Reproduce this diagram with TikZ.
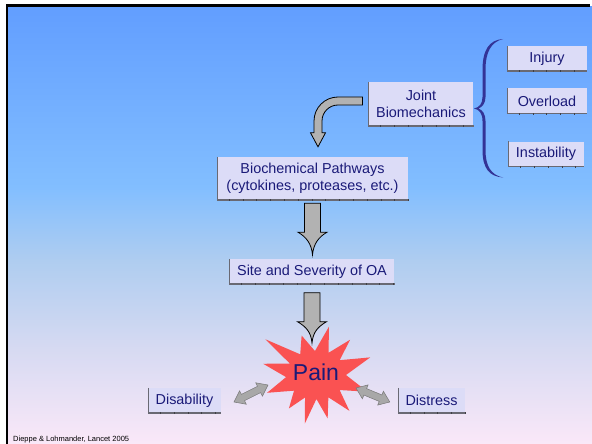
\documentclass[tikz,border=0pt]{standalone}
\usepackage{fontspec}
\setmainfont{Liberation Sans}
\usetikzlibrary{calc}

\definecolor{navytext}{RGB}{26,26,120}
\definecolor{boxfill}{RGB}{220,220,247}
\definecolor{boxedge}{RGB}{105,105,115}
\definecolor{arrowfill}{RGB}{178,178,178}
\definecolor{dblfill}{RGB}{168,168,168}
\definecolor{dbledge}{RGB}{120,120,120}
\definecolor{painred}{RGB}{250,82,82}
\definecolor{braceblue}{RGB}{51,51,150}
\definecolor{bgtop}{RGB}{98,158,255}
\definecolor{bgmidA}{RGB}{130,190,255}
\definecolor{bgmidB}{RGB}{175,205,240}
\definecolor{bgmidC}{RGB}{215,218,242}
\definecolor{bgbot}{RGB}{250,232,248}

\pgfdeclareverticalshading{slidebg}{100bp}{color(0bp)=(bgbot); color(25bp)=(bgbot);
  color(35.75bp)=(bgmidC); color(46bp)=(bgmidB); color(54.4bp)=(bgmidA);
  color(75bp)=(bgtop); color(100bp)=(bgtop)}

\tikzset{
  box/.style={fill=boxfill, text=navytext, inner xsep=7.5pt, inner ysep=3pt,
    minimum height=25pt, font=\fontsize{14.4}{16.5}\selectfont, align=center},
  fatdown/.style={fill=arrowfill, draw=black, line width=0.8pt,
    to path={let \p1=(\tikztostart), \p2=(\tikztotarget) in
      (\x1-8pt,\y1) -- (\x1+8pt,\y1) -- (\x1+8pt,\y1-29pt) -- (\x1+14.5pt,\y1-29pt)
      .. controls (\x1+6pt,\y1-34pt) and (\x1+1pt,\y2+11pt) .. (\x1,\y2)
      .. controls (\x1-1pt,\y2+11pt) and (\x1-6pt,\y1-34pt) .. (\x1-14.5pt,\y1-29pt)
      -- (\x1-8pt,\y1-29pt) -- cycle}},
  bentarrow/.style={fill=arrowfill, draw=black, line width=0.8pt,
    to path={let \p1=(\tikztostart), \p2=(\tikztotarget) in
      (\x1,\y1+4pt) -- (\x2+20pt,\y1+4pt)
      .. controls (\x2+6.75pt,\y1+4pt) and (\x2-4pt,\y1-6.75pt) .. (\x2-4pt,\y1-20pt)
      -- (\x2-4pt,\y2+14pt) -- (\x2-7.5pt,\y2+14pt) -- (\x2,\y2) -- (\x2+7.5pt,\y2+14pt)
      -- (\x2+4pt,\y2+14pt) -- (\x2+4pt,\y1-20pt)
      .. controls (\x2+4pt,\y1-11.17pt) and (\x2+11.17pt,\y1-4pt) .. (\x2+20pt,\y1-4pt)
      -- (\x1,\y1-4pt) -- cycle}},
  dblarrow/.style={fill=dblfill, draw=dbledge, line width=0.5pt,
    to path={let \p1=(\tikztostart), \p2=(\tikztotarget),
      \n1={atan2(\y2-\y1,\x2-\x1)}, \n2={veclen(\x2-\x1,\y2-\y1)} in
      ([shift={(\p1)},rotate=\n1]0pt,0pt) -- ([shift={(\p1)},rotate=\n1]10pt,7.5pt)
      -- ([shift={(\p1)},rotate=\n1]10pt,3.5pt) -- ([shift={(\p1)},rotate=\n1]\n2-10pt,3.5pt)
      -- ([shift={(\p1)},rotate=\n1]\n2-10pt,7.5pt) -- ([shift={(\p1)},rotate=\n1]\n2,0pt)
      -- ([shift={(\p1)},rotate=\n1]\n2-10pt,-7.5pt) -- ([shift={(\p1)},rotate=\n1]\n2-10pt,-3.5pt)
      -- ([shift={(\p1)},rotate=\n1]10pt,-3.5pt) -- ([shift={(\p1)},rotate=\n1]10pt,-7.5pt)
      -- cycle}}
}

\begin{document}
\begin{tikzpicture}[x=1pt, y=-1pt]

% Slide background
\useasboundingbox (0,0) rectangle (592,444);
\fill[white] (0,0) rectangle (592,444);
\shade[shading=slidebg] (8,7) rectangle (592,444);
\fill[black] (6,4.5) rectangle (590,7);
\fill[black] (6,4.5) rectangle (8,444);

% Boxes
\node[box, minimum width=80pt] (injury) at (547,58.5) {Injury};
\node[box, minimum width=80pt] (overload) at (547,101) {Overload};
\node[box] (instab) at (546,154) {Instability};
\node[box, minimum height=44pt] (joint) at (421,104) {Joint\\Biomechanics};
\node[box, minimum height=43pt, inner xsep=9.5pt] (bio) at (312.5,178.5)
  {Biochemical Pathways\\(cytokines, proteases, etc.)};
\node[box] (site) at (312,271.5) {Site and Severity of OA};
\node[box] (disab) at (184.5,400.5) {Disability};
\node[box] (distress) at (431.5,400.5) {Distress};

\foreach \n in {injury,overload,instab,joint,bio,site,disab,distress}{
  \draw[boxedge, line width=0.5pt] (\n.north west) -- (\n.south west);
  \draw[boxedge, line width=1.5pt] (\n.south west) -- (\n.south east);
  \draw[boxedge!60!black, line width=2pt, dash pattern=on 0.8pt off 13pt]
    ([xshift=12pt]\n.south west) -- (\n.south east);
}

% Brace
\fill[braceblue] (503,39) .. controls (489,40) and (482.5,50) .. (482.5,70)
  -- (482.5,97) .. controls (482.5,104) and (479,107.5) .. (474,108.5)
  .. controls (479,109.5) and (482.5,113) .. (482.5,121)
  -- (482.5,150) .. controls (482.5,168) and (489,176.5) .. (503,177.5)
  .. controls (491,175) and (485.5,166) .. (485.5,150)
  -- (485.5,121) .. controls (485.5,114) and (482.5,110) .. (478.5,108.5)
  .. controls (482.5,107) and (485.5,103) .. (485.5,97)
  -- (485.5,70) .. controls (485.5,52) and (491,42) .. (503,39) -- cycle;

% Pain star
\fill[painred, shift={(316,375)}] (168:54pt) -- (156.4:28.5pt) -- (144.8:62pt)
  -- (127.4:26pt) -- (110:42pt) -- (92.5:24pt) -- (75:50pt) -- (60.5:25.5pt)
  -- (46:49pt) -- (32:28pt) -- (18:57pt) -- (0:30pt) -- (-18:54pt)
  -- (-32.5:28pt) -- (-47:49pt) -- (-61:25.5pt) -- (-75:45pt) -- (-89:24pt)
  -- (-103:50pt) -- (-116:25pt) -- (-129:43pt) -- (-144.5:27pt) -- (-160:52pt)
  -- (-176:30pt) -- cycle;
\node[text=navytext, font=\fontsize{23}{23}\selectfont, inner sep=0pt] (pain) at (316,372) {Pain};

\coordinate (paintip) at (312,343);
\coordinate (painleft) at (268,385);
\coordinate (painright) at (356,388);

% Arrows
\draw[bentarrow] ([xshift=-6pt,yshift=3pt]joint.west) to ([xshift=5.5pt,yshift=10pt]bio.north);
\draw[fatdown] ([yshift=-3pt]bio.south) to ([yshift=4pt]site.north);
\draw[fatdown] ([yshift=-8.5pt]site.south) to (paintip);
\draw[dblarrow] ([xshift=13pt,yshift=-1.5pt]disab.east) to (painleft);
\draw[dblarrow] (painright) to ([xshift=-8pt,yshift=-1.5pt]distress.west);

% Source
\node[anchor=base west, font=\fontsize{7.5}{9}\selectfont, inner sep=0pt] (src) at (13,441)
  {Dieppe \& Lohmander, Lancet 2005};

\end{tikzpicture}
\end{document}
